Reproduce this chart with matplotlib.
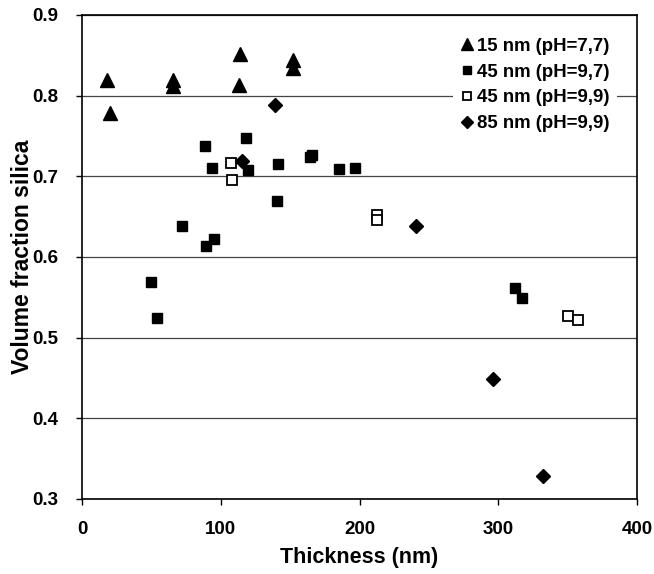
import matplotlib
matplotlib.use('Agg')
import matplotlib.pyplot as plt

plt.rcParams['font.family'] = ['Liberation Sans', 'DejaVu Sans']
plt.rcParams['font.weight'] = 'bold'

# 15 nm (pH=7,7)
tri_x = [18.2, 20.2, 65.3, 65.8, 113.9, 113.4, 152.3, 152.3]
tri_y = [0.819, 0.778, 0.819, 0.812, 0.852, 0.813, 0.844, 0.834]

# 45 nm (pH=9,7)
sq_x = [88.6, 93.9, 118.2, 119.4, 141.0, 140.3, 164.3, 165.5, 185.2, 196.8,
        72.3, 89.1, 95.4, 49.5, 53.8, 312.1, 317.4]
sq_y = [0.738, 0.710, 0.748, 0.708, 0.715, 0.670, 0.724, 0.726, 0.709, 0.710,
        0.638, 0.614, 0.622, 0.569, 0.524, 0.562, 0.549]

# 45 nm (pH=9,9)
osq_x = [107.4, 108.3, 212.8, 212.8, 350.5, 357.7]
osq_y = [0.717, 0.695, 0.652, 0.646, 0.527, 0.522]

# 85 nm (pH=9,9)
dia_x = [139.1, 115.5, 240.7, 296.0, 332.0]
dia_y = [0.788, 0.719, 0.639, 0.449, 0.329]

fig = plt.figure(figsize=(6.54, 5.74), dpi=100)
ax = fig.add_axes([0.1254, 0.1307, 0.8486, 0.8432])

ax.plot(tri_x, tri_y, '^', color='black', markersize=9.5, linestyle='none',
        label='15 nm (pH=7,7)')
ax.plot(sq_x, sq_y, 's', color='black', markersize=7.5, linestyle='none',
        label='45 nm (pH=9,7)')
ax.plot(osq_x, osq_y, 's', markerfacecolor='white', markeredgecolor='black',
        markeredgewidth=1.3, markersize=7.5, linestyle='none',
        label='45 nm (pH=9,9)')
ax.plot(dia_x, dia_y, 'D', color='black', markersize=7.5, linestyle='none',
        label='85 nm (pH=9,9)')

ax.set_xlim(0, 400)
ax.set_ylim(0.3, 0.9)
ax.set_xticks([0, 100, 200, 300, 400])
ax.set_yticks([0.3, 0.4, 0.5, 0.6, 0.7, 0.8, 0.9])
ax.set_yticklabels(['0.3', '0.4', '0.5', '0.6', '0.7', '0.8', '0.9'])
ax.yaxis.grid(True, color='#444444', linewidth=0.9)
ax.set_axisbelow(True)
ax.tick_params(direction='out', length=4, width=1, labelsize=13.5)
ax.tick_params(axis='x', pad=12)
ax.tick_params(axis='y', pad=13)
for s in ax.spines.values():
    s.set_linewidth(1.2)

ax.set_xlabel('Thickness (nm)', fontsize=15.5, fontweight='bold', labelpad=6)
ax.set_ylabel('Volume fraction silica', fontsize=16.5, fontweight='bold', labelpad=-1)

leg = ax.legend(loc='upper right', frameon=True, fontsize=13.4, handlelength=0.7,
                handletextpad=0.2, labelspacing=0.47, borderpad=0.4,
                borderaxespad=0, bbox_to_anchor=(0.964, 0.968), markerscale=0.85)
leg.get_frame().set_edgecolor('none')
leg.get_frame().set_facecolor('white')
leg.get_frame().set_alpha(1)

fig.savefig('out.png', dpi=100)
